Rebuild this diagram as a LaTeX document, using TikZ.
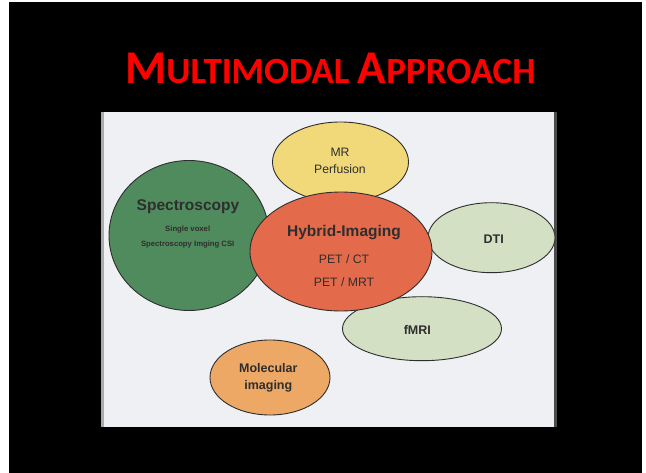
\documentclass[tikz,border=0pt]{standalone}
\usepackage{fontspec}
\setmainfont{Liberation Sans}
\newfontfamily\titlefont{Carlito}
\usetikzlibrary{shapes.geometric}
\definecolor{slideRed}{HTML}{FF0000}
\definecolor{paper}{HTML}{EEF0F3}
\definecolor{paperEdge}{HTML}{A9ABAE}
\definecolor{inkGray}{HTML}{2E2E2E}
\definecolor{yellowFill}{HTML}{F1D97A}
\definecolor{greenFill}{HTML}{4F8B5D}
\definecolor{redFill}{HTML}{E36B4B}
\definecolor{paleGreen}{HTML}{D3E0C4}
\definecolor{orangeFill}{HTML}{EDA866}
\begin{document}
\begin{tikzpicture}[x=1pt,y=-1pt,
  bubble/.style={ellipse,draw=inkGray,line width=0.9pt,inner sep=0pt},
  label/.style={text=inkGray,inner sep=0pt,anchor=center},
  big/.style={label,font=\bfseries\fontsize{15.5}{18}\selectfont},
  mid/.style={label,font=\fontsize{12.2}{14}\selectfont},
  midb/.style={label,font=\bfseries\fontsize{12.5}{14}\selectfont},
  tiny/.style={label,font=\bfseries\fontsize{7.7}{9}\selectfont}]
  % page and slide
  \useasboundingbox (0,0) rectangle (646,473);
  \fill[white] (0,0) rectangle (646,473);
  \fill[black] (9,2) rectangle (642,473);
  % title in small capitals
  \node[text=slideRed,inner sep=0pt,anchor=base] (title) at (330.5,84)
    {\titlefont\bfseries\fontsize{47}{52}\selectfont M\fontsize{37}{42}\selectfont ULTIMODAL
     \fontsize{47}{52}\selectfont A\fontsize{37}{42}\selectfont PPROACH};
  % scanned page
  \fill[paper] (101,112) rectangle (557,427);
  \fill[paperEdge] (101,112) rectangle (104,427);
  \fill[gray!60!black] (553.5,112) rectangle (556.5,427);
  % bubbles, back to front
  \node[bubble,fill=yellowFill,minimum width=136pt,minimum height=80pt] (mr) at (340.5,162) {};
  \node[bubble,fill=greenFill,minimum width=160pt,minimum height=150pt] (spec) at (189,235.5) {};
  \node[bubble,fill=paleGreen,minimum width=127pt,minimum height=70pt] (dti) at (491.5,237.7) {};
  \node[bubble,fill=paleGreen,minimum width=159pt,minimum height=64pt] (fmri) at (422,328.7) {};
  \node[bubble,fill=orangeFill,minimum width=120pt,minimum height=75pt] (mol) at (270,377.5) {};
  \node[bubble,fill=redFill,minimum width=182pt,minimum height=119pt] (hyb) at (341,251.5) {};
  % texts
  \node[mid] (mrA) at (340,152.3) {MR};
  \node[mid] (mrB) at (340,169.3) {Perfusion};
  \node[big] (specA) at (188,206.7) {Spectroscopy};
  \node[tiny] (specB) at (187.7,230) {Single voxel};
  \node[tiny] (specC) at (187.7,245) {Spectroscopy Imging CSI};
  \node[big] (hybA) at (344,232.3) {Hybrid-Imaging};
  \node[mid] (hybB) at (344,258.7) {PET / CT};
  \node[mid] (hybC) at (344,282.3) {PET / MRT};
  \node[midb] (dtiA) at (493.7,239.3) {DTI};
  \node[midb] (fmriA) at (417.3,330) {fMRI};
  \node[midb] (molA) at (268.3,368.3) {Molecular};
  \node[midb] (molB) at (268.3,386) {imaging};
\end{tikzpicture}
\end{document}
